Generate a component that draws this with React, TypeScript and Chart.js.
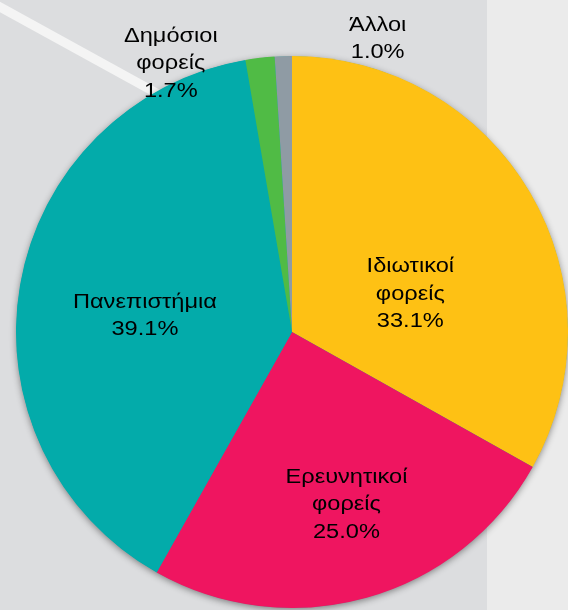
import React, { useEffect, useRef } from "react";
import { Chart, registerables } from "chart.js";

Chart.register(...registerables);

const categories = ["Ιδιωτικοί φορείς", "Ερευνητικοί φορείς", "Πανεπιστήμια", "Δημόσιοι φορείς", "Άλλοι"];
const shares = [33.1, 25.0, 39.1, 1.7, 1.0];
const labelLines = [
  ["Ιδιωτικοί", "φορείς", "33.1%"],
  ["Ερευνητικοί", "φορείς", "25.0%"],
  ["Πανεπιστήμια", "39.1%"],
  ["Δημόσιοι", "φορείς", "1.7%"],
  ["Άλλοι", "1.0%"],
];
const sliceColors = ["#FEC114", "#EF1560", "#03ABAA", "#50BB45", "#8F9BA4"];

// label placement: angle (deg, clockwise from top) and distance as a fraction of the radius
const labelAngles = [72.3, 162.5, 276.2, 335.7, 16.3];
const labelDist = [0.45, 0.656, 0.536, 1.067, 1.106];

const backgroundPlugin = {
  id: "bgPlugin",
  beforeDraw(chart: any) {
    const { ctx, width, height } = chart;
    ctx.save();
    ctx.fillStyle = "#EBEBEB";
    ctx.fillRect(0, 0, width, height);
    ctx.fillStyle = "#DCDDDF";
    ctx.fillRect(0, 0, 487, height);
    ctx.strokeStyle = "#F4F4F4";
    ctx.lineWidth = 9;
    ctx.beginPath();
    ctx.moveTo(-10, 1.5);
    ctx.lineTo(160, 95);
    ctx.stroke();
    ctx.restore();
  },
  beforeDatasetsDraw(chart: any) {
    const meta = chart.getDatasetMeta(0);
    const arc = meta.data[0];
    if (!arc) return;
    const { x, y, outerRadius } = arc.getProps(["x", "y", "outerRadius"], true);
    const ctx = chart.ctx;
    ctx.save();
    ctx.shadowColor = "rgba(0,0,0,0.45)";
    ctx.shadowBlur = 7;
    ctx.shadowOffsetX = 0;
    ctx.shadowOffsetY = 2;
    ctx.fillStyle = "#03ABAA";
    ctx.beginPath();
    ctx.arc(x, y, outerRadius - 0.5, 0, Math.PI * 2);
    ctx.fill();
    ctx.restore();
  },
  afterDatasetsDraw(chart: any) {
    const meta = chart.getDatasetMeta(0);
    const ctx = chart.ctx;
    ctx.save();
    ctx.fillStyle = "#000000";
    ctx.font = "20px 'Liberation Sans', Arial, sans-serif";
    ctx.textAlign = "center";
    ctx.textBaseline = "middle";
    const lh = 27.5;
    meta.data.forEach((el: any, i: number) => {
      const { x, y, outerRadius } = el.getProps(["x", "y", "outerRadius"], true);
      const a = (labelAngles[i] * Math.PI) / 180;
      const d = labelDist[i] * outerRadius;
      const cx = x + d * Math.sin(a);
      const cy = y - d * Math.cos(a);
      const lines = labelLines[i];
      const top = cy - ((lines.length - 1) * lh) / 2;
      lines.forEach((t, j) => {
        ctx.save();
        ctx.translate(cx, top + j * lh);
        ctx.scale(1.18, 1);
        ctx.fillText(t, 0, 0);
        ctx.restore();
      });
    });
    ctx.restore();
  },
};

export default function App() {
  const ref = useRef<HTMLCanvasElement | null>(null);
  useEffect(() => {
    if (!ref.current) return;
    const chart = new Chart(ref.current, {
      type: "pie",
      data: {
        labels: categories,
        datasets: [
          {
            data: shares,
            backgroundColor: sliceColors,
            borderWidth: 0,
          },
        ],
      },
      options: {
        responsive: false,
        animation: false,
        layout: { padding: { left: 16, right: -4, top: 54, bottom: 0 } },
        plugins: {
          legend: { display: false },
          tooltip: { enabled: false },
        },
      },
      plugins: [backgroundPlugin],
    });
    return () => chart.destroy();
  }, []);
  return (
    <div style={{ position: "fixed", left: 0, top: 0, width: 568, height: 610, overflow: "hidden" }}>
      <canvas ref={ref} width={568} height={610} style={{ display: "block" }} />
    </div>
  );
}
